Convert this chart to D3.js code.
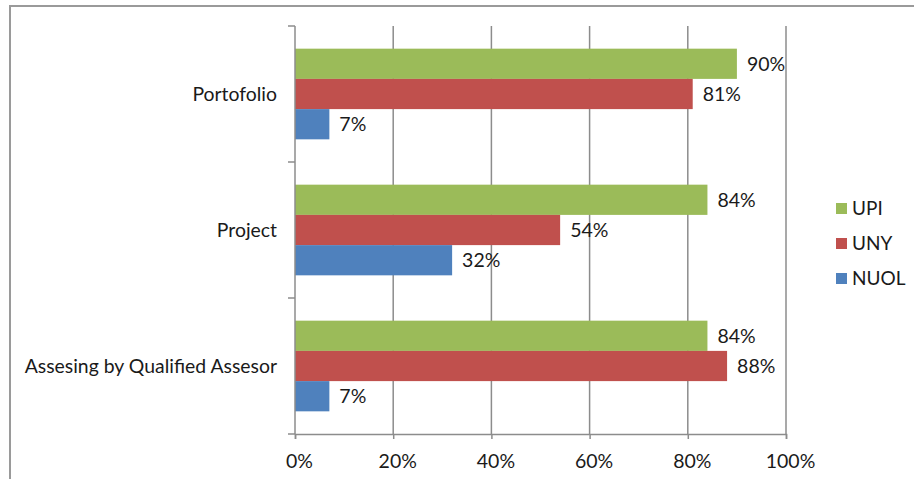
<!DOCTYPE html>
<html>
<head>
<meta charset="utf-8">
<script src="https://cdn.jsdelivr.net/npm/d3@7"></script>
<style>
  html, body { margin: 0; padding: 0; background: #fff; }
  svg { display: block; }
  text { font-family: Lato, "Open Sans", sans-serif; fill: #1a1a1a; }
</style>
</head>
<body>
<svg id="chart" width="914" height="479"></svg>
<script>
// Assessment methods and share of respondents per university
const categories = ["Portofolio", "Project", "Assesing by Qualified Assesor"];
const seriesNames = ["UPI", "UNY", "NUOL"];
const upiValues = [90, 84, 84];
const unyValues = [81, 54, 88];
const nuolValues = [7, 32, 7];
const xTicks = [0, 20, 40, 60, 80, 100];
const seriesColors = ["#9BBB59", "#C0504D", "#4F81BD"];

const seriesValues = [upiValues, unyValues, nuolValues];

const svg = d3.select("#chart");
const margin = { left: 295, right: 128, top: 26, bottom: 45 };
const width = 914 - margin.left - margin.right;   // 491
const height = 479 - margin.top - margin.bottom;  // 408

// Outer frame: only top and left edges are visible
svg.append("path")
  .attr("d", "M10,479 L10,6 L914,6")
  .attr("fill", "none")
  .attr("stroke", "#9a9a9a")
  .attr("stroke-width", 2);

const g = svg.append("g").attr("transform", `translate(${margin.left},${margin.top})`);

const x = d3.scaleLinear().domain([0, 100]).range([0, width]);
const y = d3.scaleBand().domain(categories).range([0, height]).paddingInner(0).paddingOuter(0);

// Each category holds three bars plus a 150% gap
const barH = y.bandwidth() / 4.5;
const groupOffset = barH * 0.75;

// Vertical gridlines
g.append("g").selectAll("line")
  .data(xTicks.slice(1))
  .join("line")
  .attr("x1", d => x(d)).attr("x2", d => x(d))
  .attr("y1", 0).attr("y2", height)
  .attr("stroke", "#8c8c8c").attr("stroke-width", 1.5);

// Bars with value labels
categories.forEach((cat, ci) => {
  seriesValues.forEach((vals, si) => {
    const y0 = y(cat) + groupOffset + si * barH;
    g.append("rect")
      .attr("x", x(0))
      .attr("y", y0)
      .attr("width", x(vals[ci]) - x(0))
      .attr("height", barH)
      .attr("fill", seriesColors[si]);
    g.append("text")
      .attr("x", x(vals[ci]) + 10)
      .attr("y", y0 + barH / 2)
      .attr("dy", "0.36em")
      .attr("font-size", 19.5)
      .text(vals[ci] + "%");
  });
});

// Y axis with ticks at category boundaries
g.append("line")
  .attr("x1", 0).attr("x2", 0).attr("y1", 0).attr("y2", height)
  .attr("stroke", "#8c8c8c").attr("stroke-width", 1.5);
g.append("g").selectAll("line")
  .data([0, 1, 2, 3])
  .join("line")
  .attr("x1", -7).attr("x2", 0)
  .attr("y1", i => i * y.step()).attr("y2", i => i * y.step())
  .attr("stroke", "#8c8c8c").attr("stroke-width", 1.5);

g.append("g").selectAll("text")
  .data(categories)
  .join("text")
  .attr("x", -18)
  .attr("y", d => y(d) + y.bandwidth() / 2)
  .attr("dy", "0.36em")
  .attr("text-anchor", "end")
  .attr("font-size", 19.4)
  .text(d => d);

// X axis
const xAxis = d3.axisBottom(x)
  .tickValues(xTicks)
  .tickSize(5)
  .tickPadding(15)
  .tickFormat(d => d + "%");
const xa = g.append("g").attr("transform", `translate(0,${height})`).call(xAxis);
xa.select(".domain").attr("stroke", "#8c8c8c").attr("stroke-width", 1.5);
xa.selectAll(".tick line").attr("stroke", "#8c8c8c").attr("stroke-width", 1.5);
xa.selectAll(".tick text")
  .attr("font-size", 19.5)
  .attr("font-family", "Lato, sans-serif")
  .attr("fill", "#1a1a1a")
  .attr("dx", 4);

// Legend
const legend = svg.append("g").attr("transform", "translate(836,208)");
seriesNames.forEach((name, i) => {
  const row = legend.append("g").attr("transform", `translate(0,${i * 35})`);
  row.append("rect")
    .attr("x", 0).attr("y", -5)
    .attr("width", 11).attr("height", 11)
    .attr("fill", seriesColors[i]);
  row.append("text")
    .attr("x", 16).attr("y", 0)
    .attr("dy", "0.36em")
    .attr("font-size", 19)
    .text(name);
});
</script>
</body>
</html>
